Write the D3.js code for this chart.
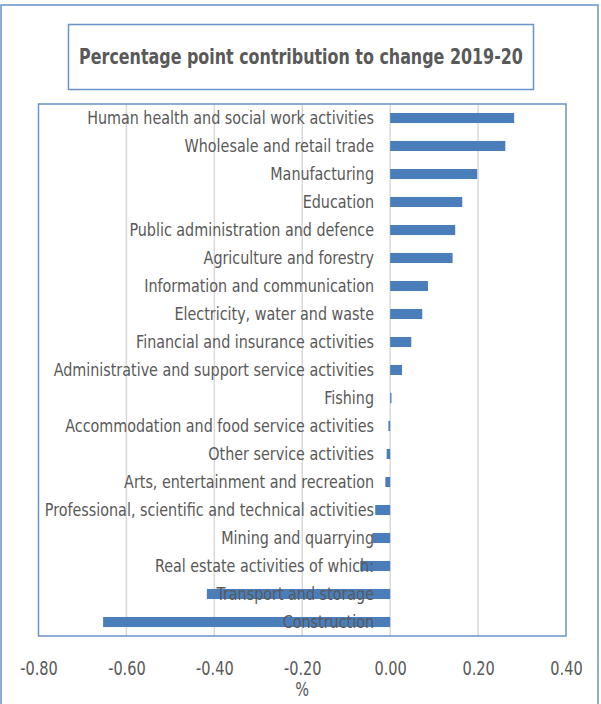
<!DOCTYPE html>
<html><head><meta charset="utf-8">
<script src="https://cdn.jsdelivr.net/npm/d3@7"></script>
<style>body{margin:0;background:#fff;} svg{display:block;}</style>
</head><body>
<svg id="c" width="601" height="704"></svg>
<script>
const categories = [
  "Human health and social work activities",
  "Wholesale and retail trade",
  "Manufacturing",
  "Education",
  "Public administration and defence",
  "Agriculture and forestry",
  "Information and communication",
  "Electricity, water and waste",
  "Financial and insurance activities",
  "Administrative and support service activities",
  "Fishing",
  "Accommodation and food service activities",
  "Other service activities",
  "Arts, entertainment and recreation",
  "Professional, scientific and technical activities",
  "Mining and quarrying",
  "Real estate activities of which:",
  "Transport and storage",
  "Construction"
];
const values = [0.282, 0.262, 0.198, 0.164, 0.148, 0.142, 0.086, 0.073, 0.048, 0.027, 0.003, -0.004, -0.008, -0.011, -0.034, -0.040, -0.068, -0.417, -0.653];
const tickValues = [-0.8, -0.6, -0.4, -0.2, 0, 0.2, 0.4];
const titleText = "Percentage point contribution to change 2019-20";
const axisTitle = "%";

const svg = d3.select("#c");
const font = "'DejaVu Sans Condensed','Open Sans',sans-serif";
const textColor = "#595959";
const borderColor = "#6a93c9";

function squeeze(sel, k) {
  sel.each(function() {
    const w = this.getComputedTextLength();
    d3.select(this).attr("textLength", w * k).attr("lengthAdjust", "spacingAndGlyphs");
  });
}

// outer border
svg.append("rect").attr("x",1).attr("y",5).attr("width",597).attr("height",710)
  .attr("fill","none").attr("stroke",borderColor).attr("stroke-width",1.5);

// title box
svg.append("rect").attr("x",68.5).attr("y",24.5).attr("width",465).attr("height",65)
  .attr("fill","#fff").attr("stroke",borderColor).attr("stroke-width",1.5);
svg.append("g").attr("transform","translate(301,64) scale(0.842,1)")
  .append("text").attr("x",0).attr("y",0).attr("text-anchor","middle")
  .attr("font-family",font).attr("font-weight","bold").attr("font-size",21)
  .attr("fill",textColor).text(titleText);

const pLeft = 38.5, pRight = 566, pTop = 104, pBottom = 636;
const x = d3.scaleLinear().domain([-0.8, 0.4]).range([pLeft, pRight]);
const y = d3.scaleBand().domain(categories).range([pTop, pBottom]).paddingInner(0.64).paddingOuter(0.32);

// gridlines
svg.append("g").selectAll("line").data(tickValues.slice(1,-1)).join("line")
  .attr("x1",d=>x(d)).attr("x2",d=>x(d)).attr("y1",pTop).attr("y2",pBottom)
  .attr("stroke","#d9d9d9").attr("stroke-width",1.5);

// bars
svg.append("g").selectAll("rect").data(values).join("rect")
  .attr("x",(d)=>x(Math.min(0,d)))
  .attr("width",d=>Math.abs(x(d)-x(0)))
  .attr("y",(d,i)=>y(categories[i]))
  .attr("height",y.bandwidth())
  .attr("fill","#4a7ebb");

// category labels
svg.append("g").selectAll("text").data(categories).join("text")
  .attr("x",374).attr("y",d=>y(d)+y.bandwidth()/2)
  .attr("dy","0.36em").attr("text-anchor","end")
  .attr("font-family",font).attr("font-size",17.5).attr("fill",textColor)
  .text(d=>d).call(squeeze, 0.91);

// plot box
svg.append("rect").attr("x",pLeft).attr("y",pTop).attr("width",pRight-pLeft).attr("height",pBottom-pTop)
  .attr("fill","none").attr("stroke",borderColor).attr("stroke-width",1.5);

// axis
const fmt = d => d3.format(".2f")(d).replace("\u2212", "-");
const axis = d3.axisBottom(x).tickValues(tickValues).tickFormat(fmt).tickSize(0);
const ag = svg.append("g").attr("transform",`translate(0,${pBottom+22})`).call(axis);
ag.select(".domain").remove();
ag.selectAll("text").attr("font-family",font).attr("font-size",19).attr("fill",textColor).call(squeeze, 0.85);

svg.append("text").attr("x",(pLeft+pRight)/2).attr("y",696).attr("text-anchor","middle")
  .attr("font-family",font).attr("font-size",19).attr("fill",textColor).text(axisTitle).call(squeeze, 0.85);
</script>
</body></html>
